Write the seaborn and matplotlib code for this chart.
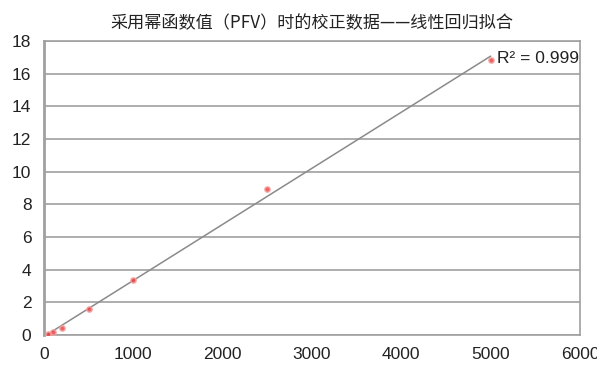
import numpy as np
import pandas as pd
import matplotlib
matplotlib.use("Agg")
import matplotlib.pyplot as plt
import seaborn as sns

# calibration points
pfv = [50, 100, 200, 500, 1000, 2500, 5000]
signal = [0.05, 0.2, 0.45, 1.6, 3.35, 8.95, 16.85]
x_ticks = [0, 1000, 2000, 3000, 4000, 5000, 6000]
y_ticks = [0, 2, 4, 6, 8, 10, 12, 14, 16, 18]
title = "采用幂函数值（PFV）时的校正数据——线性回归拟合"
r2_text = "R² = 0.999"

df = pd.DataFrame({"pfv": pfv, "signal": signal})

sns.set_style("white")
plt.rcParams['font.family'] = ['Liberation Sans', 'DejaVu Sans']

fig = plt.figure(figsize=(5.97, 3.65), dpi=100)
ax = fig.add_axes([0.0737, 0.0822, 0.8978, 0.8055])

sns.regplot(data=df, x="pfv", y="signal", ci=None, ax=ax,
            scatter_kws=dict(s=14, color="#e83a3a", edgecolor="#f5a0a0", linewidths=1.2, zorder=4),
            line_kws=dict(color="#8a8a8a", lw=1.1, zorder=3))

ax.set_xlim(0, 6000)
ax.set_ylim(0, 18)
ax.set_xticks(x_ticks)
ax.set_yticks(y_ticks)
ax.set_xlabel("")
ax.set_ylabel("")
ax.yaxis.grid(True, color="#a0a0a0", lw=1.2)
ax.set_axisbelow(True)

for side in ["top", "right", "bottom"]:
    ax.spines[side].set_color("#a0a0a0")
    ax.spines[side].set_linewidth(1.2)
ax.spines["left"].set_color("#a0a0a0")
ax.spines["left"].set_linewidth(2)

ax.tick_params(axis="both", direction="out", length=6, width=1.2, color="#a0a0a0",
               labelsize=12.5, labelcolor="#222222", pad=3)

ax.text(5070, 16.9, r2_text, fontsize=12.5, color="#222222", va="center", ha="left")

ax.set_title(title, fontsize=12.3, family=['Noto Sans CJK SC', 'DejaVu Sans'],
             color="#222222", pad=9)

fig.savefig("out.png", dpi=100)
